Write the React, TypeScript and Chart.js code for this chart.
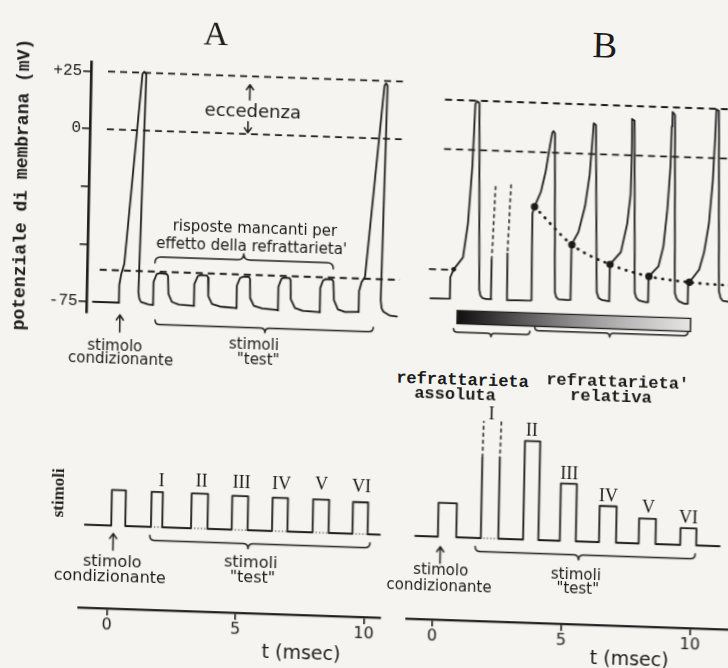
import React, { useEffect, useRef } from "react";
import { Chart, registerables } from "chart.js";

Chart.register(...registerables);

type P = [number, number];

// ======================= DATA =======================
// time axis (ms)
const timeTicks = [0, 5, 10];
// membrane potential axis (mV)
const voltTicks = [-75, -50, -25, 0, 25];
const voltTickLabels = ["-75", "", "", "0", "+25"];
// reference levels (mV)
const levelOvershoot = 25;
const levelZero = 0;
const levelThreshold = -61;

// Panel A – membrane potential: conditioning action potential (t ms, mV)
const spikeA1: P[] = [
  [-0.78, -75.0], [0.24, -75.0], [0.23, -67.3], [0.30, -62.5], [0.41, -58.1],
  [0.97, 24.6], [1.04, 25.4], [1.12, 24.6], [0.98, -70.1], [1.02, -73.0],
  [1.09, -74.4], [1.36, -75.3], [1.55, -75.5],
];
// Panel A – five failed responses to test stimuli I–V
const failedA: P[] = [
  [1.56, -65.5], [1.68, -62.0], [1.80, -61.6], [2.07, -61.9], [2.12, -62.7], [2.15, -70.5], [2.29, -73.9], [2.56, -74.9], [3.11, -75.3],
  [3.16, -75.3], [3.15, -65.8], [3.28, -62.3], [3.40, -61.8], [3.63, -61.9], [3.68, -62.8], [3.70, -70.8], [3.85, -74.2], [4.16, -75.2], [4.77, -75.6],
  [4.81, -75.7], [4.80, -66.0], [4.92, -62.5], [5.04, -61.9], [5.27, -61.9], [5.31, -62.8], [5.33, -71.1], [5.48, -74.4], [5.80, -75.4], [6.38, -75.8],
  [6.43, -76.0], [6.42, -65.8], [6.53, -62.3], [6.63, -61.7], [6.84, -61.8], [6.89, -62.6], [6.91, -70.9], [7.08, -74.7], [7.39, -75.8], [8.00, -76.1],
  [8.06, -76.2], [8.05, -65.6], [8.15, -62.4], [8.26, -61.7], [8.50, -61.8], [8.55, -62.6], [8.59, -70.7], [8.75, -74.7], [9.03, -75.7], [9.49, -75.5],
];
// Panel A – action potential evoked by test stimulus VI
const spikeA2: P[] = [
  [9.56, -75.5], [9.56, -66.4], [9.65, -62.5], [9.78, -60.1], [10.39, 22.9],
  [10.45, 24.0], [10.51, 23.0], [10.41, -70.0], [10.45, -73.5], [10.52, -75.0],
  [10.78, -76.6], [11.05, -76.9],
];

// Panel B – conditioning action potential up to test stimulus I
const traceB1: P[] = [
  [-0.45, -75.8], [0.33, -75.5], [0.32, -64.7], [0.45, -60.7], [0.81, -54.4],
  [0.98, -37.0], [1.11, -7.9], [1.18, 23.4], [1.25, 24.7], [1.34, 23.9],
  [1.48, -70.5], [1.53, -73.5], [1.62, -74.8], [1.75, -75.1], [1.97, -75.1], [1.95, -55.3],
];
// Panel B – stimulus I during absolute refractoriness (dashed deflection)
const artifactB1: P[] = [[1.95, -55.3], [2.05, -17.0]];
const artifactB2: P[] = [[2.66, -16.7], [2.57, -51.7]];
// Panel B – responses to test stimuli II–VI (relative refractoriness)
const traceB2: P[] = [
  [2.57, -51.7], [2.59, -75.4], [3.50, -75.1], [3.56, -75.0], [3.53, -31.0], [3.61, -27.6],
  [3.85, -19.9], [4.02, -9.7], [4.17, 3.4], [4.25, 9.9], [4.30, 10.9], [4.36, 9.8],
  [4.48, -70.4], [4.53, -72.8], [4.62, -74.0], [4.98, -74.2],
  [5.11, -74.1], [5.09, -49.0], [5.12, -46.2], [5.37, -39.6], [5.61, -26.5], [5.77, -10.5],
  [5.86, 8.3], [5.89, 15.6], [5.98, 14.8], [6.14, -69.7], [6.22, -72.6], [6.34, -73.6], [6.60, -74.1],
  [6.66, -74.1], [6.64, -57.9], [6.65, -55.5], [7.07, -49.1], [7.30, -34.5], [7.41, -20.0],
  [7.43, 1.7], [7.41, 18.4], [7.51, 17.5], [7.65, -69.3], [7.72, -72.0], [7.82, -73.2], [8.08, -74.0],
  [8.19, -74.0], [8.18, -63.0], [8.20, -60.9], [8.57, -55.7], [8.75, -45.5], [8.88, -26.7],
  [8.97, -4.9], [8.99, 15.3], [9.01, 22.6], [9.11, 21.2], [9.24, -68.7], [9.31, -71.5], [9.41, -73.0], [9.63, -74.1],
  [9.76, -74.1], [9.76, -65.4], [9.81, -63.2], [10.19, -56.6], [10.37, -47.8], [10.54, -33.3],
  [10.66, -11.5], [10.72, 10.2], [10.75, 24.7], [10.85, 24.0], [10.99, -67.1], [11.06, -70.5],
  [11.15, -72.0], [11.5, -72.6],
];
// Panel B – threshold points and the dotted threshold curve
const thresholdDotsB: P[] = [
  [0.45, -60.7], [3.61, -27.6], [5.12, -46.2], [6.65, -55.5], [8.20, -60.9], [9.81, -63.2],
];
const thresholdCurveB: P[] = [
  [3.61, -27.6], [5.12, -46.2], [6.65, -55.5], [8.20, -60.9], [9.81, -63.2], [11.5, -64.2],
];
// Panel B – refractory period bar (ms)
const refractoryBar = [0.6, 9.91];

// Stimuli (arbitrary amplitude units): conditioning [on, off, amplitude]
const condA = [0.105, 0.65, 1.03];
const testOnA = [1.65, 3.21, 4.79, 6.36, 7.94, 9.49];
const testOffA = [2.09, 3.85, 5.41, 6.96, 8.56, 10.08];
const testAmpA = [1.02, 1.01, 0.98, 0.97, 0.96, 0.92];
const stimSpanA = [-0.92, 10.56];

const condB = [0.155, 0.87, 0.98];
const testOnB = [1.82, 3.46, 4.88, 6.40, 7.94, 9.55];
const testOffB = [2.50, 4.05, 5.50, 7.06, 8.59, 10.17];
const testAmpB = [3.40, 2.86, 1.66, 1.05, 0.73, 0.49];
const stimSpanB = [-0.72, 11.08];
const stimIsolidB = 2.33; // part of pulse I drawn solid

const romans = ["I", "II", "III", "IV", "V", "VI"];

// ======================= STYLE / LAYOUT =======================
const INK = "#1b1b1b";
const PAPER = "#f5f4f0";
const KX = 0.02;
const KY = 0.034;
const SANS = "'DejaVu Sans', sans-serif";
const SERIF = "'Liberation Serif', 'DejaVu Serif', serif";
const MONO = "'Liberation Mono', 'DejaVu Sans Mono', monospace";

type Brace = { from: number; to: number; tip: number; level: number; dir: number; h: number };
type Arrow = { at: number; from: number; to: number };

function annotPlugin(braces: Brace[], arrows: Arrow[]) {
  return {
    id: "annot",
    afterDatasetsDraw(chart: any) {
      const { ctx } = chart;
      const x = chart.scales.x;
      const y = chart.scales.y;
      ctx.save();
      ctx.strokeStyle = INK;
      ctx.lineWidth = 1.5;
      ctx.lineCap = "round";
      ctx.lineJoin = "round";
      braces.forEach((b) => {
        const x1 = x.getPixelForValue(b.from);
        const x2 = x.getPixelForValue(b.to);
        const xm = x.getPixelForValue(b.tip);
        const yy = y.getPixelForValue(b.level);
        const d = b.dir;
        const h = b.h;
        ctx.beginPath();
        ctx.moveTo(x1, yy - d * h);
        ctx.quadraticCurveTo(x1, yy, x1 + h, yy);
        ctx.lineTo(xm - h, yy);
        ctx.quadraticCurveTo(xm, yy, xm, yy + d * h);
        ctx.quadraticCurveTo(xm, yy, xm + h, yy);
        ctx.lineTo(x2 - h, yy);
        ctx.quadraticCurveTo(x2, yy, x2, yy - d * h);
        ctx.stroke();
      });
      arrows.forEach((a) => {
        const px = x.getPixelForValue(a.at);
        const y1 = y.getPixelForValue(a.from);
        const y2 = y.getPixelForValue(a.to);
        const dir = Math.sign(y2 - y1);
        ctx.beginPath();
        ctx.moveTo(px, y1);
        ctx.lineTo(px, y2);
        ctx.moveTo(px - 3.5, y2 - dir * 5);
        ctx.lineTo(px, y2);
        ctx.lineTo(px + 3.5, y2 - dir * 5);
        ctx.stroke();
      });
      ctx.restore();
    },
  };
}

function ln(points: P[], extra: any = {}) {
  return {
    type: "line",
    data: points.map(([x, y]) => ({ x, y })),
    borderColor: INK,
    borderWidth: 1.8,
    pointRadius: 0,
    tension: 0,
    fill: false,
    clip: false,
    borderJoinStyle: "round",
    borderCapStyle: "round",
    ...extra,
  };
}

function level(a: number, b: number, v: number) {
  return ln([[a, v], [b, v]], { borderDash: [7, 5], borderWidth: 1.8, borderCapStyle: "butt" });
}

function pulseTrain(start: number, end: number, ons: number[], offs: number[], amps: number[]): P[] {
  const pts: P[] = [[start, 0]];
  ons.forEach((on, i) => {
    pts.push([on, 0], [on, amps[i]], [offs[i], amps[i]], [offs[i], 0]);
  });
  pts.push([end, 0]);
  return pts;
}

const baseOpts = (padding: any, scales: any) => ({
  animation: false,
  responsive: false,
  events: [],
  layout: { padding },
  plugins: { legend: { display: false }, tooltip: { enabled: false } },
  scales,
});

const hiddenY = (min: number, max: number) => ({ type: "linear", min, max, display: false });

const timeAxis = (min: number, max: number) => ({
  type: "linear",
  min,
  max,
  position: "bottom",
  afterBuildTicks: (s: any) => {
    s.ticks = timeTicks.map((v) => ({ value: v }));
  },
  afterFit: (s: any) => {
    s.height = 40;
  },
  ticks: {
    font: { family: SANS, size: 16 },
    color: INK,
    padding: 0,
    maxRotation: 0,
    autoSkip: false,
  },
  grid: { drawOnChartArea: false, drawTicks: true, tickLength: 7, color: INK, lineWidth: 1.6 },
  border: { display: true, color: INK, width: 2.3 },
});

function configUpperA() {
  const trace = [...spikeA1, ...failedA, ...spikeA2];
  return {
    type: "line",
    data: {
      datasets: [
        level(-0.37, 11.1, levelOvershoot),
        level(-0.37, 11.1, levelZero),
        level(-0.54, 11.14, levelThreshold),
        ln(trace),
      ],
    },
    options: baseOpts({ top: 51.2, bottom: 43.6, left: 0, right: 0 }, {
      x: { type: "linear", min: -1.008, max: 11.381, display: false },
      y: {
        type: "linear",
        min: -79.5,
        max: 29,
        position: "left",
        afterBuildTicks: (s: any) => {
          s.ticks = voltTicks.map((v) => ({ value: v }));
        },
        afterFit: (s: any) => {
          s.width = 86.6;
        },
        ticks: {
          callback: (v: number) => voltTickLabels[voltTicks.indexOf(v)] ?? "",
          font: { family: MONO, size: 16 },
          color: INK,
          padding: 1,
          autoSkip: false,
        },
        grid: { drawOnChartArea: false, drawTicks: true, tickLength: 8.5, color: INK, lineWidth: 1.6 },
        border: { display: true, color: INK, width: 2.6 },
        title: {
          display: true,
          text: "potenziale di membrana (mV)",
          font: { family: MONO, size: 18, weight: "bold" },
          color: INK,
          padding: { top: 8.7, bottom: 0 },
        },
      },
    }),
    plugins: [
      annotPlugin(
        [
          { from: 1.6, to: 8.54, tip: 5.05, level: -54.6, dir: -1, h: 6 },
          { from: 1.65, to: 10.14, tip: 5.93, level: -83.9, dir: 1, h: 4.5 },
        ],
        [
          { at: 5.16, from: 14.8, to: 21.4 },
          { at: 5.11, from: 5.3, to: 0.5 },
          { at: 0.28, from: -87.7, to: -80.3 },
        ]
      ),
    ],
  };
}

function barFill(c: any) {
  const ch = c && c.chart;
  const xs = ch && ch.scales && ch.scales.x;
  if (!xs || !ch.chartArea) return "#7a7a7a";
  const x0 = xs.getPixelForValue(refractoryBar[0]);
  const x1 = xs.getPixelForValue(refractoryBar[1]);
  if (!Number.isFinite(x0) || !Number.isFinite(x1) || x0 === x1) return "#7a7a7a";
  const g = ch.ctx.createLinearGradient(x0, 0, x1, 0);
  g.addColorStop(0, "#101010");
  g.addColorStop(0.12, "#2e2e2e");
  g.addColorStop(0.3, "#5e5e5e");
  g.addColorStop(0.5, "#8e8e8e");
  g.addColorStop(0.75, "#bdbdbd");
  g.addColorStop(1, "#e6e6e4");
  return g;
}

function configUpperB() {
  return {
    type: "line",
    data: {
      datasets: [
        level(-0.03, 11.6, levelOvershoot),
        level(-0.03, 11.6, levelZero),
        level(-0.53, 0.43, levelThreshold),
        ln(traceB1),
        ln(artifactB1, { borderDash: [4, 3], borderWidth: 1.5, borderCapStyle: "butt" }),
        ln(artifactB2, { borderDash: [4, 3], borderWidth: 1.5, borderCapStyle: "butt" }),
        ln(traceB2),
        ln(thresholdCurveB, {
          borderDash: [0.5, 7],
          borderWidth: 2.8,
          borderCapStyle: "round",
          cubicInterpolationMode: "monotone",
        }),
        {
          type: "scatter",
          data: thresholdDotsB.map(([x, y]) => ({ x, y })),
          pointRadius: thresholdDotsB.map((_, i) => (i === 0 ? 2.4 : 3.7)),
          pointBackgroundColor: INK,
          pointBorderWidth: 0,
          showLine: false,
          clip: false,
        },
        {
          type: "bar",
          indexAxis: "y",
          data: [{ x: refractoryBar, y: -84.76 }],
          barThickness: 14,
          borderColor: INK,
          borderWidth: 1.5,
          borderSkipped: false,
          clip: false,
          backgroundColor: barFill,
        },
      ],
    },
    options: baseOpts({ top: 11.2, bottom: 43.6, left: 0, right: 0 }, {
      x: { type: "linear", min: -1.271, max: 11.713, display: false },
      y: hiddenY(-79.5, 29),
    }),
    plugins: [
      annotPlugin(
        [
          { from: 0.49, to: 3.52, tip: 1.98, level: -92.4, dir: 1, h: 3.5 },
          { from: 3.71, to: 9.79, tip: 6.69, level: -90.2, dir: 1, h: 4 },
        ],
        []
      ),
    ],
  };
}

function configLowerA() {
  const stim = pulseTrain(
    stimSpanA[0], stimSpanA[1],
    [condA[0], ...testOnA], [condA[1], ...testOffA], [condA[2], ...testAmpA]
  );
  const dotted = testOnA.map((on, i) =>
    ln([[on + 0.12, 0], [testOffA[i] - 0.04, 0]], { borderDash: [1.2, 2.2], borderWidth: 1.1, borderCapStyle: "butt" })
  );
  return {
    type: "line",
    data: { datasets: [ln(stim), ...dotted] },
    options: baseOpts({ top: 10, bottom: 11, left: 83.8, right: 19.3 }, {
      x: timeAxis(-1.117, 10.63),
      y: hiddenY(-2.406, 3.594),
    }),
    plugins: [
      annotPlugin(
        [{ from: 1.61, to: 10.18, tip: 5.44, level: -0.39, dir: 1, h: 5 }],
        [{ at: 0.19, from: -0.71, to: -0.23 }]
      ),
    ],
  };
}

function configLowerB() {
  const seg1 = pulseTrain(stimSpanB[0], testOnB[0], [condB[0]], [condB[1]], [condB[2]]);
  seg1.push([testOnB[0], stimIsolidB]);
  const seg2: P[] = [[testOffB[0], stimIsolidB + 0.03], ...pulseTrain(
    testOffB[0], stimSpanB[1], testOnB.slice(1), testOffB.slice(1), testAmpB.slice(1)
  )];
  const dashI1 = ln([[testOnB[0], stimIsolidB], [testOnB[0] + 0.03, testAmpB[0]]], {
    borderDash: [4, 3], borderWidth: 1.5, borderCapStyle: "butt",
  });
  const dashI2 = ln([[testOffB[0] + 0.03, testAmpB[0]], [testOffB[0], stimIsolidB + 0.03]], {
    borderDash: [4, 3], borderWidth: 1.5, borderCapStyle: "butt",
  });
  const dotI = ln([[testOnB[0] + 0.1, 0], [testOffB[0] - 0.05, 0]], {
    borderDash: [1.2, 2.2], borderWidth: 1.1, borderCapStyle: "butt",
  });
  return {
    type: "line",
    data: { datasets: [ln(seg1), ln(seg2), dashI1, dashI2, dotI] },
    options: baseOpts({ top: 10, bottom: 11, left: 7.4, right: 0 }, {
      x: timeAxis(-0.984, 11.713),
      y: hiddenY(-2.406, 3.594),
    }),
    plugins: [
      annotPlugin(
        [{ from: 1.61, to: 10.14, tip: 5.62, level: -0.39, dir: 1, h: 5 }],
        [{ at: 0.26, from: -0.77, to: -0.29 }]
      ),
    ],
  };
}

function ChartBox(props: { left: number; top: number; width: number; height: number; make: () => any }) {
  const ref = useRef<HTMLCanvasElement>(null);
  useEffect(() => {
    let chart: any = null;
    try {
      chart = new Chart(ref.current as HTMLCanvasElement, props.make());
    } catch (e) {
      console.error(e);
    }
    return () => {
      if (chart) chart.destroy();
    };
  }, []);
  return (
    <canvas
      ref={ref}
      width={props.width}
      height={props.height}
      style={{ position: "absolute", left: props.left, top: props.top, width: props.width, height: props.height }}
    />
  );
}

type Lbl = { t: string; x: number; y: number; f: string; s: number; w?: string; rot?: number };

const romanPosA: P[] = [[164.6, 486.9], [204.6, 486.1], [244.7, 485.9], [284.7, 485.5], [324.7, 485.4], [364.7, 485.9]];
const romanPosB: P[] = [[493.3, 409], [533.6, 424.3], [572.1, 465.7], [611.5, 486.7], [651.8, 497], [692, 506.3]];

const labels: Lbl[] = [
  { t: "A", x: 210, y: 39, f: SERIF, s: 34 },
  { t: "B", x: 599, y: 36.5, f: SERIF, s: 37 },
  { t: "eccedenza", x: 248.5, y: 114.8, f: SANS, s: 18 },
  { t: "risposte mancanti per", x: 252.9, y: 231.7, f: SANS, s: 15 },
  { t: "effetto della refrattarieta'", x: 249.9, y: 249.8, f: SANS, s: 15 },
  { t: "stimolo", x: 115.2, y: 353.5, f: SANS, s: 15 },
  { t: "condizionante", x: 121.3, y: 367.3, f: SANS, s: 15 },
  { t: "stimoli", x: 254.2, y: 348.2, f: SANS, s: 15 },
  { t: "\"test\"", x: 258.8, y: 362.6, f: SANS, s: 15 },
  { t: "refrattarieta", x: 463.4, y: 376.7, f: MONO, s: 17, w: "bold" },
  { t: "assoluta", x: 456.2, y: 391.4, f: MONO, s: 17, w: "bold" },
  { t: "refrattarieta'", x: 618.5, y: 373.1, f: MONO, s: 17, w: "bold" },
  { t: "relativa", x: 612, y: 388.3, f: MONO, s: 17, w: "bold" },
  { t: "stimoli", x: 60.5, y: 502.9, f: SERIF, s: 17, w: "bold", rot: -90 },
  { t: "stimolo", x: 117, y: 569.6, f: SANS, s: 16 },
  { t: "condizionante", x: 114.8, y: 584.6, f: SANS, s: 16 },
  { t: "stimoli", x: 255.4, y: 566.4, f: SANS, s: 16 },
  { t: "\"test\"", x: 257.4, y: 581.3, f: SANS, s: 16 },
  { t: "stimolo", x: 445.5, y: 567.4, f: SANS, s: 15 },
  { t: "condizionante", x: 444, y: 583.4, f: SANS, s: 15 },
  { t: "stimoli", x: 580.6, y: 566.8, f: SANS, s: 15 },
  { t: "\"test\"", x: 582.6, y: 580.7, f: SANS, s: 15 },
  { t: "t (msec)", x: 307.4, y: 654.1, f: SANS, s: 19 },
  { t: "t (msec)", x: 635.5, y: 649, f: SANS, s: 19 },
  ...romans.map((r, i) => ({ t: r, x: romanPosA[i][0], y: romanPosA[i][1], f: SERIF, s: 18 })),
  ...romans.map((r, i) => ({ t: r, x: romanPosB[i][0], y: romanPosB[i][1], f: SERIF, s: 18 })),
];

export default function App() {
  useEffect(() => {
    document.body.style.margin = "0";
    document.body.style.background = PAPER;
  }, []);
  return (
    <div style={{ position: "fixed", left: 0, top: 0, width: 728, height: 668, overflow: "hidden", background: PAPER }}>
      <div
        style={{
          position: "absolute",
          left: 0,
          top: 0,
          width: 728,
          height: 668,
          transform: `matrix(1, ${KY}, ${-KX}, 1, 0, 0)`,
          transformOrigin: "364px 334px",
        }}
      >
        <ChartBox left={0} top={20} width={405} height={345} make={configUpperA} />
        <ChartBox left={405} top={60} width={335} height={305} make={configUpperB} />
        <ChartBox left={0} top={400} width={405} height={268} make={configLowerA} />
        <ChartBox left={405} top={400} width={335} height={268} make={configLowerB} />
        {labels.map((l, i) => (
          <div
            key={i}
            style={{
              position: "absolute",
              left: l.x,
              top: l.y,
              transform: `translate(-50%, -50%)${l.rot ? ` rotate(${l.rot}deg)` : ""}`,
              fontFamily: l.f,
              fontSize: l.s,
              fontWeight: (l.w as any) || "normal",
              color: INK,
              whiteSpace: "nowrap",
              lineHeight: 1,
            }}
          >
            {l.t}
          </div>
        ))}
      </div>
    </div>
  );
}
